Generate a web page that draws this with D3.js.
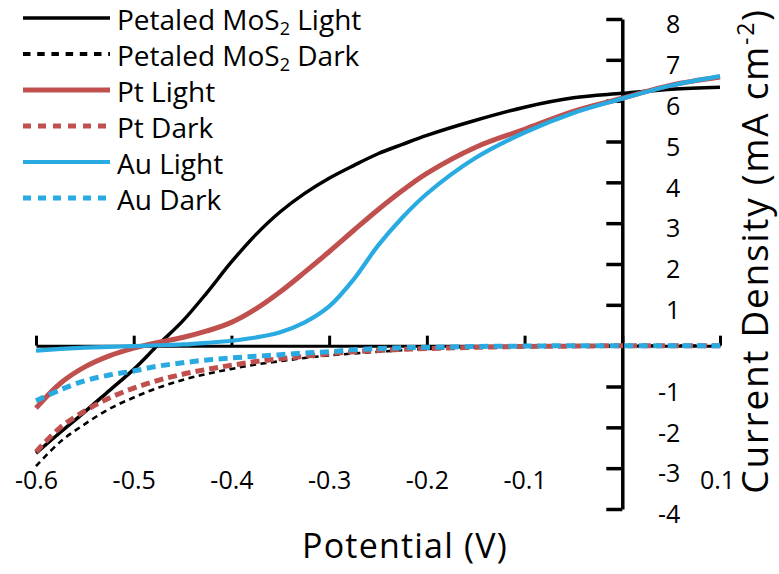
<!DOCTYPE html>
<html><head><meta charset="utf-8">
<script src="https://cdn.jsdelivr.net/npm/d3@7"></script>
<style>
html,body{margin:0;padding:0;background:#fff;}
svg{display:block;font-family:"Open Sans","Noto Sans",sans-serif;}
</style></head>
<body><svg id="c" width="779" height="574"></svg>
<script>
const potential = [-0.6,-0.575,-0.55,-0.525,-0.5,-0.475,-0.45,-0.425,-0.4,-0.375,-0.35,-0.325,-0.3,-0.275,-0.25,-0.225,-0.2,-0.15,-0.1,-0.05,0,0.05,0.1];
const mos2Light = [-2.63,-2.12,-1.62,-1.1,-0.58,0.02,0.6,1.3,2.05,2.72,3.28,3.73,4.1,4.41,4.7,4.93,5.15,5.52,5.84,6.07,6.18,6.28,6.33];
const mos2Dark  = [-2.95,-2.35,-1.92,-1.55,-1.27,-1.03,-0.84,-0.69,-0.57,-0.46,-0.38,-0.3,-0.24,-0.19,-0.15,-0.11,-0.08,-0.04,-0.02,-0.01,0,0,0];
const ptLight   = [-1.53,-0.92,-0.52,-0.25,-0.06,0.08,0.2,0.36,0.57,0.9,1.32,1.8,2.3,2.82,3.33,3.8,4.22,4.86,5.3,5.74,6.06,6.38,6.58];
const ptDark    = [-2.6,-2.0,-1.6,-1.28,-1.04,-0.85,-0.7,-0.58,-0.48,-0.39,-0.32,-0.26,-0.2,-0.15,-0.12,-0.09,-0.07,-0.04,-0.02,-0.01,0,0,0];
const auLight   = [-0.12,-0.08,-0.05,-0.03,-0.01,0.01,0.03,0.07,0.12,0.2,0.33,0.57,0.96,1.62,2.45,3.14,3.72,4.6,5.22,5.7,6.05,6.37,6.6];
const auDark    = [-1.35,-1.08,-0.86,-0.72,-0.62,-0.5,-0.42,-0.35,-0.3,-0.26,-0.22,-0.18,-0.15,-0.1,-0.07,-0.05,-0.04,-0.02,-0.01,0,0,0,0];
const seriesNames = ["Petaled MoS2 Light","Petaled MoS2 Dark","Pt Light","Pt Dark","Au Light","Au Dark"];
const xTicks = [-0.6,-0.5,-0.4,-0.3,-0.2,-0.1,0,0.1];
const xTickLabels = ["-0.6","-0.5","-0.4","-0.3","-0.2","-0.1","","0.1"];
const yTicks = [-4,-3,-2,-1,0,1,2,3,4,5,6,7,8];
const yTickLabels = ["-4","-3","-2","-1","","1","2","3","4","5","6","7","8"];

const RED = "#c0504d", BLUE = "#29abe2";
const styles = [
  {color:"#000", w:3.5, dash:null, lw:3.5, ldash:null},
  {color:"#000", w:2.6, dash:"6,4.5", lw:4, ldash:"7.5,6.7"},
  {color:RED, w:5, dash:null, lw:5, ldash:null},
  {color:RED, w:5, dash:"9,5", lw:5, ldash:"8,7"},
  {color:BLUE, w:4.2, dash:null, lw:4, ldash:null},
  {color:BLUE, w:5, dash:"9,5.5", lw:5, ldash:"8,7"}
];
const allValues = [mos2Light,mos2Dark,ptLight,ptDark,auLight,auDark];

const svg = d3.select("#c");
const x = d3.scaleLinear().domain([-0.6,0.1]).range([36,720]);
const y = d3.scaleLinear().domain([-4,8]).range([509,19]);

// x axis line at y=0 with upward ticks
const xAx = svg.append("g").attr("transform",`translate(0,${y(0)})`)
  .call(d3.axisTop(x).tickValues(xTicks).tickSizeInner(10).tickSizeOuter(0).tickFormat(""));
xAx.select(".domain").attr("stroke","#000").attr("stroke-width",3);
xAx.selectAll(".tick line").attr("stroke","#000").attr("stroke-width",3);

// x tick labels
const xLab = svg.append("g").attr("transform",`translate(0,480)`)
  .call(d3.axisBottom(x).tickValues(xTicks).tickSize(0).tickFormat((d,i)=>xTickLabels[i]));
xLab.select(".domain").remove();
xLab.selectAll("text").attr("font-size",25).attr("fill","#000").attr("font-family","Open Sans").attr("dy","0.36em").attr("y",0);
xLab.selectAll(".tick").filter(d=>d===0.1).select("text").attr("x",-3);

// y axis at x=0
const yAx = svg.append("g").attr("transform",`translate(${x(0)},0)`)
  .call(d3.axisRight(y).tickValues(yTicks).tickSizeInner(-16).tickSizeOuter(0).tickFormat((d,i)=>yTickLabels[i]));
yAx.select(".domain").attr("stroke","#000").attr("stroke-width",3.5);
yAx.selectAll(".tick line").attr("stroke","#000").attr("stroke-width",3.5);
yAx.selectAll("text").attr("font-size",25).attr("fill","#000").attr("font-family","Open Sans")
  .attr("text-anchor","end").attr("x",58).attr("dy","0.55em");

// lines
const line = d3.line().x(d=>x(d[0])).y(d=>y(d[1])).curve(d3.curveCatmullRom.alpha(0.5));
const order = [0,2,4,1,3,5];
order.forEach(i=>{
  const s = styles[i];
  svg.append("path").datum(potential.map((p,k)=>[p,allValues[i][k]]))
    .attr("d",line).attr("fill","none").attr("stroke",s.color)
    .attr("stroke-width",s.w).attr("stroke-dasharray",s.dash);
});

// legend
const leg = svg.append("g");
const rowY = d3.scaleLinear().domain([0,5]).range([20,200]);
seriesNames.forEach((name,i)=>{
  const s = styles[i];
  const yy = rowY(i);
  leg.append("line").attr("x1",23).attr("x2",110).attr("y1",yy-2).attr("y2",yy-2)
    .attr("stroke",s.color).attr("stroke-width",s.lw).attr("stroke-dasharray",s.ldash);
  const t = leg.append("text").attr("x",117).attr("y",yy+10).attr("font-size",28).attr("fill","#000");
  if (name.includes("MoS2")) {
    const parts = name.split("MoS2");
    t.append("tspan").text(parts[0]+"MoS");
    t.append("tspan").text("2").attr("font-size",18).attr("dy",5);
    t.append("tspan").text(parts[1]).attr("dy",-5);
  } else t.text(name);
});

// axis titles
svg.append("text").attr("x",405).attr("y",558).attr("text-anchor","middle")
  .attr("font-size",34).attr("letter-spacing",1.2).attr("fill","#000").text("Potential (V)");
const yt = svg.append("text").attr("transform","translate(768,251) rotate(-90)")
  .attr("text-anchor","middle").attr("font-size",37).attr("letter-spacing",1.7).attr("fill","#000");
yt.append("tspan").text("Current Density (mA cm");
yt.append("tspan").text("-2").attr("font-size",23).attr("dy",-14);
yt.append("tspan").text(")").attr("dy",14);
</script>
</body></html>
